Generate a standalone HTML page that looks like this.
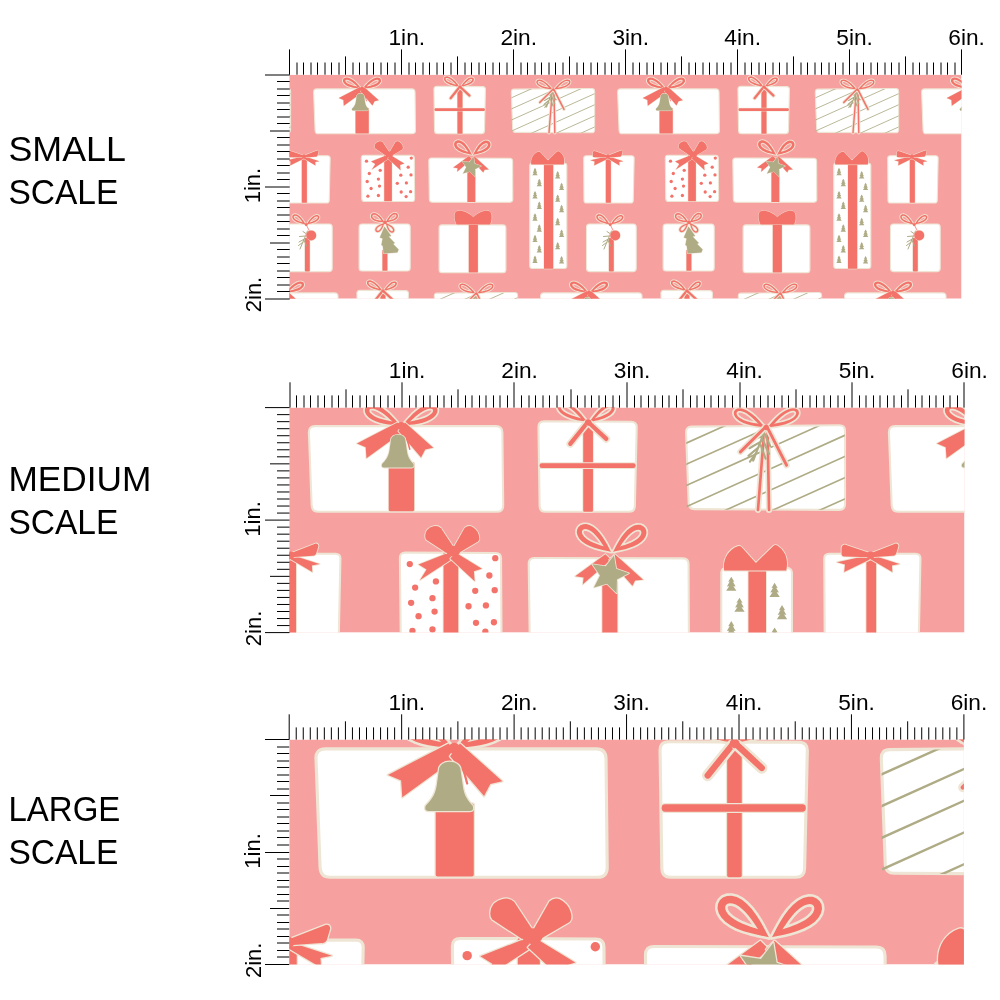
<!DOCTYPE html>
<html><head><meta charset="utf-8"><title>Fabric scale</title>
<style>
html,body{margin:0;padding:0;background:#fff;width:1000px;height:1000px;overflow:hidden}
svg{display:block;will-change:transform}
text{font-family:"Liberation Sans",sans-serif;fill:#000}
.big{font-size:35.9px}
.rl{font-size:22px}
</style></head><body>
<svg width="1000" height="1000" viewBox="0 0 1000 1000">
<defs>
<clipPath id="clipC"><rect x="511.4" y="89.1" width="83.1" height="43.6" rx="2.6"/></clipPath>
<g id="gA"><path d="M313.63,92.30 Q313.50,88.90 316.90,88.90 L411.60,88.90 Q415.00,88.90 415.04,92.30 L415.46,130.40 Q415.50,133.80 412.10,133.80 L318.60,133.80 Q315.20,133.80 315.07,130.40 Z" fill="#fff" stroke="#EFE5D4" stroke-width="1.1"/><rect x="355.5" y="108" width="13.30" height="25.50" rx="0.6" fill="#F3736A" stroke="#EFE5D4" stroke-width="0.9" paint-order="stroke"/><path d="M361.50,88.60 L361.31,88.41 L360.77,87.80 L359.91,86.79 L358.76,85.47 L357.36,83.94 L355.75,82.33 L353.98,80.79 L352.11,79.44 L350.21,78.39 L348.36,77.74 L346.65,77.52 L345.17,77.74 L344.00,78.35 L343.23,79.29 L342.92,80.47 L343.11,81.77 L343.81,83.09 L344.99,84.35 L346.60,85.46 L348.56,86.39 L350.76,87.11 L353.05,87.63 L355.30,87.99 L357.36,88.22 L359.10,88.37 L360.42,88.48 L361.23,88.56Z M357.48,86.55 L357.35,86.44 L356.96,86.10 L356.34,85.53 L355.51,84.78 L354.51,83.91 L353.37,82.98 L352.14,82.07 L350.86,81.25 L349.60,80.57 L348.40,80.08 L347.32,79.82 L346.43,79.80 L345.76,79.99 L345.37,80.38 L345.29,80.93 L345.52,81.58 L346.07,82.29 L346.91,83.00 L348.00,83.69 L349.30,84.32 L350.72,84.86 L352.18,85.32 L353.60,85.70 L354.89,86.00 L355.98,86.23 L356.80,86.40 L357.31,86.51Z" fill="#F3736A" fill-rule="evenodd" stroke="#EFE5D4" stroke-width="1.80" stroke-linejoin="round"/><path d="M361.50,88.60 L361.31,88.41 L360.77,87.80 L359.91,86.79 L358.76,85.47 L357.36,83.94 L355.75,82.33 L353.98,80.79 L352.11,79.44 L350.21,78.39 L348.36,77.74 L346.65,77.52 L345.17,77.74 L344.00,78.35 L343.23,79.29 L342.92,80.47 L343.11,81.77 L343.81,83.09 L344.99,84.35 L346.60,85.46 L348.56,86.39 L350.76,87.11 L353.05,87.63 L355.30,87.99 L357.36,88.22 L359.10,88.37 L360.42,88.48 L361.23,88.56Z M357.48,86.55 L357.35,86.44 L356.96,86.10 L356.34,85.53 L355.51,84.78 L354.51,83.91 L353.37,82.98 L352.14,82.07 L350.86,81.25 L349.60,80.57 L348.40,80.08 L347.32,79.82 L346.43,79.80 L345.76,79.99 L345.37,80.38 L345.29,80.93 L345.52,81.58 L346.07,82.29 L346.91,83.00 L348.00,83.69 L349.30,84.32 L350.72,84.86 L352.18,85.32 L353.60,85.70 L354.89,86.00 L355.98,86.23 L356.80,86.40 L357.31,86.51Z" fill="#F3736A" fill-rule="evenodd"/><path d="M362.50,88.60 L362.77,88.56 L363.58,88.48 L364.90,88.37 L366.64,88.22 L368.70,87.99 L370.95,87.63 L373.24,87.11 L375.44,86.39 L377.40,85.46 L379.01,84.35 L380.19,83.09 L380.89,81.77 L381.08,80.47 L380.77,79.29 L380.00,78.35 L378.83,77.74 L377.35,77.52 L375.64,77.74 L373.79,78.39 L371.89,79.44 L370.02,80.79 L368.25,82.33 L366.64,83.94 L365.24,85.47 L364.09,86.79 L363.23,87.80 L362.69,88.41Z M366.52,86.55 L366.69,86.51 L367.20,86.40 L368.02,86.23 L369.11,86.00 L370.40,85.70 L371.82,85.32 L373.28,84.86 L374.70,84.32 L376.00,83.69 L377.09,83.00 L377.93,82.29 L378.48,81.58 L378.71,80.93 L378.63,80.38 L378.24,79.99 L377.57,79.80 L376.68,79.82 L375.60,80.08 L374.40,80.57 L373.14,81.25 L371.86,82.07 L370.63,82.98 L369.49,83.91 L368.49,84.78 L367.66,85.53 L367.04,86.10 L366.65,86.44Z" fill="#F3736A" fill-rule="evenodd" stroke="#EFE5D4" stroke-width="1.80" stroke-linejoin="round"/><path d="M362.50,88.60 L362.77,88.56 L363.58,88.48 L364.90,88.37 L366.64,88.22 L368.70,87.99 L370.95,87.63 L373.24,87.11 L375.44,86.39 L377.40,85.46 L379.01,84.35 L380.19,83.09 L380.89,81.77 L381.08,80.47 L380.77,79.29 L380.00,78.35 L378.83,77.74 L377.35,77.52 L375.64,77.74 L373.79,78.39 L371.89,79.44 L370.02,80.79 L368.25,82.33 L366.64,83.94 L365.24,85.47 L364.09,86.79 L363.23,87.80 L362.69,88.41Z M366.52,86.55 L366.69,86.51 L367.20,86.40 L368.02,86.23 L369.11,86.00 L370.40,85.70 L371.82,85.32 L373.28,84.86 L374.70,84.32 L376.00,83.69 L377.09,83.00 L377.93,82.29 L378.48,81.58 L378.71,80.93 L378.63,80.38 L378.24,79.99 L377.57,79.80 L376.68,79.82 L375.60,80.08 L374.40,80.57 L373.14,81.25 L371.86,82.07 L370.63,82.98 L369.49,83.91 L368.49,84.78 L367.66,85.53 L367.04,86.10 L366.65,86.44Z" fill="#F3736A" fill-rule="evenodd"/><path d="M360,87 L338.8,98.0 L343.4,100.0 L343.8,105.8 L363.5,91.5 Z" fill="#F3736A" stroke="#EFE5D4" stroke-width="0.9" stroke-linejoin="round" paint-order="stroke"/><path d="M364,87 L378.8,100.2 L374.6,101.2 L372.4,105.4 L360.5,91.5 Z" fill="#F3736A" stroke="#EFE5D4" stroke-width="0.9" stroke-linejoin="round" paint-order="stroke"/><circle cx="362" cy="88.8" r="2.0" fill="#F3736A"/><path d="M363.5,90 L366.5,101" fill="none" stroke="#F3736A" stroke-width="0.8" stroke-linecap="round" stroke-linejoin="round"/><path d="M356.6,96.5 C356.6,92.4 364.2,92.4 364.2,96.5 L365,102 C365.4,105.5 367,107.3 368.4,108.8 Q369,110.6 367.4,110.6 L353,110.6 Q351.4,110.6 352,108.8 C353.5,107.3 355.2,105.5 355.8,102 Z" fill="#AEAB85" stroke="#EFE5D4" stroke-width="0.9" stroke-linejoin="round" paint-order="stroke"/></g>
<g id="gB"><path d="M433.94,89.40 Q433.90,86.40 436.90,86.41 L482.50,86.59 Q485.50,86.60 485.43,89.60 L484.47,130.80 Q484.40,133.80 481.40,133.80 L437.60,133.80 Q434.60,133.80 434.56,130.80 Z" fill="#fff" stroke="#EFE5D4" stroke-width="1.1"/><rect x="457.4" y="86.5" width="5.10" height="47.30" rx="0.6" fill="#F3736A" stroke="#EFE5D4" stroke-width="0.9" paint-order="stroke"/><rect x="434.5" y="108.3" width="50.40" height="2.60" rx="1.2" fill="#F3736A" stroke="#EFE5D4" stroke-width="0.9" paint-order="stroke"/><path d="M459.60,86.80 L459.44,86.62 L459.00,86.07 L458.29,85.17 L457.34,83.98 L456.18,82.59 L454.85,81.12 L453.37,79.69 L451.80,78.41 L450.20,77.39 L448.63,76.69 L447.16,76.36 L445.88,76.41 L444.86,76.82 L444.17,77.53 L443.87,78.47 L443.99,79.57 L444.54,80.72 L445.52,81.86 L446.88,82.92 L448.53,83.85 L450.40,84.64 L452.36,85.27 L454.28,85.76 L456.05,86.13 L457.55,86.41 L458.67,86.61 L459.37,86.74Z M456.21,84.76 L456.09,84.65 L455.76,84.31 L455.24,83.75 L454.55,83.01 L453.70,82.15 L452.73,81.22 L451.68,80.31 L450.58,79.48 L449.48,78.78 L448.42,78.27 L447.46,77.98 L446.64,77.91 L446.02,78.06 L445.63,78.40 L445.50,78.91 L445.66,79.53 L446.11,80.22 L446.82,80.93 L447.77,81.63 L448.90,82.27 L450.15,82.86 L451.45,83.36 L452.72,83.78 L453.88,84.12 L454.86,84.39 L455.60,84.58 L456.05,84.71Z" fill="#F3736A" fill-rule="evenodd" stroke="#EFE5D4" stroke-width="1.80" stroke-linejoin="round"/><path d="M459.60,86.80 L459.44,86.62 L459.00,86.07 L458.29,85.17 L457.34,83.98 L456.18,82.59 L454.85,81.12 L453.37,79.69 L451.80,78.41 L450.20,77.39 L448.63,76.69 L447.16,76.36 L445.88,76.41 L444.86,76.82 L444.17,77.53 L443.87,78.47 L443.99,79.57 L444.54,80.72 L445.52,81.86 L446.88,82.92 L448.53,83.85 L450.40,84.64 L452.36,85.27 L454.28,85.76 L456.05,86.13 L457.55,86.41 L458.67,86.61 L459.37,86.74Z M456.21,84.76 L456.09,84.65 L455.76,84.31 L455.24,83.75 L454.55,83.01 L453.70,82.15 L452.73,81.22 L451.68,80.31 L450.58,79.48 L449.48,78.78 L448.42,78.27 L447.46,77.98 L446.64,77.91 L446.02,78.06 L445.63,78.40 L445.50,78.91 L445.66,79.53 L446.11,80.22 L446.82,80.93 L447.77,81.63 L448.90,82.27 L450.15,82.86 L451.45,83.36 L452.72,83.78 L453.88,84.12 L454.86,84.39 L455.60,84.58 L456.05,84.71Z" fill="#F3736A" fill-rule="evenodd"/><path d="M460.60,86.80 L460.80,86.75 L461.39,86.61 L462.37,86.42 L463.65,86.14 L465.17,85.78 L466.82,85.32 L468.49,84.72 L470.08,84.00 L471.48,83.15 L472.61,82.19 L473.41,81.17 L473.84,80.14 L473.90,79.18 L473.60,78.36 L472.97,77.75 L472.07,77.41 L470.95,77.39 L469.70,77.71 L468.36,78.35 L467.01,79.28 L465.71,80.43 L464.49,81.72 L463.39,83.04 L462.44,84.28 L461.67,85.34 L461.09,86.15 L460.73,86.64Z M463.46,84.94 L463.58,84.90 L463.96,84.77 L464.57,84.57 L465.37,84.30 L466.33,83.96 L467.37,83.55 L468.45,83.08 L469.48,82.55 L470.41,81.97 L471.19,81.36 L471.78,80.76 L472.14,80.18 L472.27,79.68 L472.17,79.28 L471.85,79.03 L471.34,78.95 L470.67,79.05 L469.88,79.34 L469.00,79.80 L468.09,80.42 L467.19,81.15 L466.32,81.93 L465.52,82.72 L464.83,83.46 L464.25,84.08 L463.82,84.56 L463.55,84.85Z" fill="#F3736A" fill-rule="evenodd" stroke="#EFE5D4" stroke-width="1.80" stroke-linejoin="round"/><path d="M460.60,86.80 L460.80,86.75 L461.39,86.61 L462.37,86.42 L463.65,86.14 L465.17,85.78 L466.82,85.32 L468.49,84.72 L470.08,84.00 L471.48,83.15 L472.61,82.19 L473.41,81.17 L473.84,80.14 L473.90,79.18 L473.60,78.36 L472.97,77.75 L472.07,77.41 L470.95,77.39 L469.70,77.71 L468.36,78.35 L467.01,79.28 L465.71,80.43 L464.49,81.72 L463.39,83.04 L462.44,84.28 L461.67,85.34 L461.09,86.15 L460.73,86.64Z M463.46,84.94 L463.58,84.90 L463.96,84.77 L464.57,84.57 L465.37,84.30 L466.33,83.96 L467.37,83.55 L468.45,83.08 L469.48,82.55 L470.41,81.97 L471.19,81.36 L471.78,80.76 L472.14,80.18 L472.27,79.68 L472.17,79.28 L471.85,79.03 L471.34,78.95 L470.67,79.05 L469.88,79.34 L469.00,79.80 L468.09,80.42 L467.19,81.15 L466.32,81.93 L465.52,82.72 L464.83,83.46 L464.25,84.08 L463.82,84.56 L463.55,84.85Z" fill="#F3736A" fill-rule="evenodd"/><path d="M459.2,87.5 L450.6,98.2" fill="none" stroke="#EFE5D4" stroke-width="4.00" stroke-linecap="round" stroke-linejoin="round"/><path d="M459.2,87.5 L450.6,98.2" fill="none" stroke="#F3736A" stroke-width="2.2" stroke-linecap="round" stroke-linejoin="round"/><path d="M460.8,87.5 L469.5,95.6" fill="none" stroke="#EFE5D4" stroke-width="4.00" stroke-linecap="round" stroke-linejoin="round"/><path d="M460.8,87.5 L469.5,95.6" fill="none" stroke="#F3736A" stroke-width="2.2" stroke-linecap="round" stroke-linejoin="round"/><circle cx="460" cy="87.0" r="1.7" fill="#F3736A"/></g>
<g id="gC"><path d="M511.31,92.20 Q511.20,89.20 514.20,89.17 L591.60,88.43 Q594.60,88.40 594.60,91.40 L594.60,129.80 Q594.60,132.80 591.60,132.79 L515.80,132.41 Q512.80,132.40 512.69,129.40 Z" fill="#fff" stroke="#EFE5D4" stroke-width="1.1"/><g clip-path="url(#clipC)"><path d="M510,87.35 L597,48.20" stroke="#AEAB85" stroke-width="0.85" fill="none"/><path d="M510,98.45 L597,59.30" stroke="#AEAB85" stroke-width="0.85" fill="none"/><path d="M510,109.55 L597,70.40" stroke="#AEAB85" stroke-width="0.85" fill="none"/><path d="M510,120.65 L597,81.50" stroke="#AEAB85" stroke-width="0.85" fill="none"/><path d="M510,131.75 L597,92.60" stroke="#AEAB85" stroke-width="0.85" fill="none"/><path d="M510,142.85 L597,103.70" stroke="#AEAB85" stroke-width="0.85" fill="none"/><path d="M510,153.95 L597,114.80" stroke="#AEAB85" stroke-width="0.85" fill="none"/><path d="M510,165.05 L597,125.90" stroke="#AEAB85" stroke-width="0.85" fill="none"/><path d="M510,176.16 L597,137.00" stroke="#AEAB85" stroke-width="0.85" fill="none"/></g><path d="M552.3,91.0 L549.0,132.8" fill="none" stroke="#EFE5D4" stroke-width="3.20" stroke-linecap="round" stroke-linejoin="round"/><path d="M552.3,91.0 L549.0,132.8" fill="none" stroke="#F3736A" stroke-width="1.4" stroke-linecap="round" stroke-linejoin="round"/><path d="M554.0,91.0 L554.8,132.8" fill="none" stroke="#EFE5D4" stroke-width="3.20" stroke-linecap="round" stroke-linejoin="round"/><path d="M554.0,91.0 L554.8,132.8" fill="none" stroke="#F3736A" stroke-width="1.4" stroke-linecap="round" stroke-linejoin="round"/><path d="M553,90 L546.5,107 M551.5,94 L545.5,96.5 M550.5,97 L544.5,100.5 M549.3,100 L544,104.5 M548.3,102.5 L544.8,107.5 M552.5,93 L555.5,99.5 M551.5,96 L554.8,103.5 M550.5,99 L553,106" stroke="#AEAB85" stroke-width="1.1" fill="none" stroke-linecap="round"/><path d="M552.80,89.60 L552.63,89.43 L552.15,88.89 L551.38,88.00 L550.35,86.83 L549.09,85.48 L547.65,84.04 L546.07,82.66 L544.40,81.44 L542.71,80.47 L541.07,79.85 L539.55,79.59 L538.25,79.72 L537.22,80.19 L536.55,80.96 L536.29,81.95 L536.47,83.06 L537.10,84.22 L538.15,85.33 L539.59,86.34 L541.34,87.20 L543.28,87.90 L545.32,88.44 L547.31,88.83 L549.14,89.11 L550.68,89.31 L551.84,89.46 L552.56,89.56Z M549.23,87.70 L549.10,87.59 L548.75,87.24 L548.19,86.66 L547.44,85.90 L546.53,85.01 L545.50,84.07 L544.37,83.15 L543.18,82.33 L542.00,81.66 L540.86,81.20 L539.83,80.98 L538.96,80.99 L538.29,81.23 L537.88,81.67 L537.75,82.25 L537.92,82.94 L538.40,83.67 L539.16,84.40 L540.18,85.08 L541.40,85.69 L542.74,86.21 L544.13,86.64 L545.49,86.97 L546.74,87.23 L547.78,87.42 L548.58,87.57 L549.06,87.66Z" fill="#F3736A" fill-rule="evenodd" stroke="#EFE5D4" stroke-width="1.80" stroke-linejoin="round"/><path d="M552.80,89.60 L552.63,89.43 L552.15,88.89 L551.38,88.00 L550.35,86.83 L549.09,85.48 L547.65,84.04 L546.07,82.66 L544.40,81.44 L542.71,80.47 L541.07,79.85 L539.55,79.59 L538.25,79.72 L537.22,80.19 L536.55,80.96 L536.29,81.95 L536.47,83.06 L537.10,84.22 L538.15,85.33 L539.59,86.34 L541.34,87.20 L543.28,87.90 L545.32,88.44 L547.31,88.83 L549.14,89.11 L550.68,89.31 L551.84,89.46 L552.56,89.56Z M549.23,87.70 L549.10,87.59 L548.75,87.24 L548.19,86.66 L547.44,85.90 L546.53,85.01 L545.50,84.07 L544.37,83.15 L543.18,82.33 L542.00,81.66 L540.86,81.20 L539.83,80.98 L538.96,80.99 L538.29,81.23 L537.88,81.67 L537.75,82.25 L537.92,82.94 L538.40,83.67 L539.16,84.40 L540.18,85.08 L541.40,85.69 L542.74,86.21 L544.13,86.64 L545.49,86.97 L546.74,87.23 L547.78,87.42 L548.58,87.57 L549.06,87.66Z" fill="#F3736A" fill-rule="evenodd"/><path d="M553.80,89.60 L554.04,89.55 L554.76,89.45 L555.94,89.30 L557.50,89.10 L559.34,88.81 L561.35,88.40 L563.41,87.86 L565.37,87.15 L567.13,86.27 L568.59,85.25 L569.66,84.13 L570.30,82.97 L570.48,81.85 L570.22,80.87 L569.55,80.10 L568.52,79.63 L567.20,79.51 L565.67,79.77 L564.02,80.41 L562.31,81.38 L560.62,82.61 L559.02,84.01 L557.56,85.45 L556.29,86.82 L555.24,87.99 L554.46,88.88 L553.97,89.43Z M557.41,87.68 L557.58,87.64 L558.07,87.54 L558.87,87.40 L559.93,87.19 L561.18,86.93 L562.56,86.59 L563.97,86.15 L565.33,85.63 L566.56,85.01 L567.59,84.32 L568.36,83.59 L568.85,82.85 L569.03,82.16 L568.90,81.57 L568.48,81.14 L567.81,80.90 L566.93,80.89 L565.89,81.12 L564.74,81.59 L563.54,82.26 L562.34,83.10 L561.20,84.02 L560.14,84.97 L559.22,85.86 L558.46,86.63 L557.89,87.21 L557.54,87.57Z" fill="#F3736A" fill-rule="evenodd" stroke="#EFE5D4" stroke-width="1.80" stroke-linejoin="round"/><path d="M553.80,89.60 L554.04,89.55 L554.76,89.45 L555.94,89.30 L557.50,89.10 L559.34,88.81 L561.35,88.40 L563.41,87.86 L565.37,87.15 L567.13,86.27 L568.59,85.25 L569.66,84.13 L570.30,82.97 L570.48,81.85 L570.22,80.87 L569.55,80.10 L568.52,79.63 L567.20,79.51 L565.67,79.77 L564.02,80.41 L562.31,81.38 L560.62,82.61 L559.02,84.01 L557.56,85.45 L556.29,86.82 L555.24,87.99 L554.46,88.88 L553.97,89.43Z M557.41,87.68 L557.58,87.64 L558.07,87.54 L558.87,87.40 L559.93,87.19 L561.18,86.93 L562.56,86.59 L563.97,86.15 L565.33,85.63 L566.56,85.01 L567.59,84.32 L568.36,83.59 L568.85,82.85 L569.03,82.16 L568.90,81.57 L568.48,81.14 L567.81,80.90 L566.93,80.89 L565.89,81.12 L564.74,81.59 L563.54,82.26 L562.34,83.10 L561.20,84.02 L560.14,84.97 L559.22,85.86 L558.46,86.63 L557.89,87.21 L557.54,87.57Z" fill="#F3736A" fill-rule="evenodd"/><path d="M552.5,89.8 L539.8,102.4" fill="none" stroke="#EFE5D4" stroke-width="3.30" stroke-linecap="round" stroke-linejoin="round"/><path d="M552.5,89.8 L539.8,102.4" fill="none" stroke="#F3736A" stroke-width="1.5" stroke-linecap="round" stroke-linejoin="round"/><path d="M554.2,90.2 L564.0,109.4" fill="none" stroke="#EFE5D4" stroke-width="3.30" stroke-linecap="round" stroke-linejoin="round"/><path d="M554.2,90.2 L564.0,109.4" fill="none" stroke="#F3736A" stroke-width="1.5" stroke-linecap="round" stroke-linejoin="round"/><circle cx="553.3" cy="89.6" r="1.4" fill="#F3736A"/></g>
<g id="gD"><path d="M583.72,158.40 Q583.70,155.80 586.30,155.80 L631.60,155.80 Q634.20,155.80 634.14,158.40 L633.26,200.40 Q633.20,203.00 630.60,203.00 L586.60,203.00 Q584.00,203.00 583.98,200.40 Z" fill="#fff" stroke="#EFE5D4" stroke-width="1.1"/><rect x="605.8" y="156" width="5.10" height="46.80" rx="0.6" fill="#F3736A" stroke="#EFE5D4" stroke-width="0.9" paint-order="stroke"/><path d="M607,156.6 L590.4,160.2 L594.6,161.4 L594.2,165.4 L608.2,158.6 Z" fill="#F3736A" stroke="#EFE5D4" stroke-width="0.9" stroke-linejoin="round" paint-order="stroke"/><path d="M609,156.6 L623.2,161.2 L619.2,162 L619.4,165.4 L607.8,158.6 Z" fill="#F3736A" stroke="#EFE5D4" stroke-width="0.9" stroke-linejoin="round" paint-order="stroke"/><path d="M607.6,155.4 L594.4,151.0 Q593.0,151.2 592.8,152.6 L592.8,156.2 Q593.2,157.4 594.4,157.2 L607.6,157.6 Z" fill="#F3736A" stroke="#EFE5D4" stroke-width="0.9" stroke-linejoin="round" paint-order="stroke"/><path d="M608.4,155.4 L621.2,150.4 Q622.6,150.4 622.6,151.8 L621.4,155.8 Q620.8,157 619.6,156.8 L608.4,157.6 Z" fill="#F3736A" stroke="#EFE5D4" stroke-width="0.9" stroke-linejoin="round" paint-order="stroke"/><circle cx="608.0" cy="156.6" r="2.0" fill="#F3736A"/></g>
<g id="gE"><path d="M361.33,158.00 Q361.30,155.20 364.10,155.21 L411.50,155.39 Q414.30,155.40 414.32,158.20 L414.58,198.70 Q414.60,201.50 411.80,201.50 L364.60,201.50 Q361.80,201.50 361.77,198.70 Z" fill="#fff" stroke="#EFE5D4" stroke-width="1.1"/><circle cx="366.5" cy="161.2" r="1.65" fill="#F3736A"/><circle cx="369.3" cy="173.5" r="1.65" fill="#F3736A"/><circle cx="367.2" cy="181.5" r="1.65" fill="#F3736A"/><circle cx="371.1" cy="188.5" r="1.65" fill="#F3736A"/><circle cx="367.9" cy="196.2" r="1.65" fill="#F3736A"/><circle cx="380.2" cy="170.3" r="1.65" fill="#F3736A"/><circle cx="378.4" cy="179.1" r="1.65" fill="#F3736A"/><circle cx="379.5" cy="186.1" r="1.65" fill="#F3736A"/><circle cx="378.4" cy="195.5" r="1.65" fill="#F3736A"/><circle cx="411.3" cy="158.1" r="1.65" fill="#F3736A"/><circle cx="408.2" cy="167.2" r="1.65" fill="#F3736A"/><circle cx="411" cy="174.9" r="1.65" fill="#F3736A"/><circle cx="400.8" cy="175.2" r="1.65" fill="#F3736A"/><circle cx="397.3" cy="183.3" r="1.65" fill="#F3736A"/><circle cx="406.4" cy="182.9" r="1.65" fill="#F3736A"/><circle cx="401.2" cy="192" r="1.65" fill="#F3736A"/><circle cx="410.6" cy="191.7" r="1.65" fill="#F3736A"/><circle cx="406.1" cy="196.6" r="1.65" fill="#F3736A"/><rect x="384.2" y="155" width="7.70" height="46.30" rx="0.6" fill="#F3736A" stroke="#EFE5D4" stroke-width="0.9" paint-order="stroke"/><path d="M386.7,155.3 L371.1,161.4 L375.3,164.0 L371.9,169.6 L389.2,158.3 Z" fill="#F3736A" stroke="#EFE5D4" stroke-width="0.9" stroke-linejoin="round" paint-order="stroke"/><path d="M390.7,155.3 L404.3,163.6 L400.1,165.0 L400.5,170.2 L387.7,158.3 Z" fill="#F3736A" stroke="#EFE5D4" stroke-width="0.9" stroke-linejoin="round" paint-order="stroke"/><path d="M389.4,152.2 L382.9,142.4 Q381.2,140.8 378.9,141.4 Q375.7,142.3 374.9,144.6 Q374.1,147.4 375.3,148.6 L385.7,155.4 Z" fill="#F3736A" stroke="#EFE5D4" stroke-width="0.9" stroke-linejoin="round" paint-order="stroke"/><path d="M389.6,152.2 L395.3,142.2 Q396.9,140.8 398.7,141.4 Q401.5,142.8 402.5,145.4 Q403.5,148.2 402.3,149.4 L392.1,155.4 Z" fill="#F3736A" stroke="#EFE5D4" stroke-width="0.9" stroke-linejoin="round" paint-order="stroke"/><ellipse cx="389.3" cy="154.4" rx="3.6" ry="2.8" fill="#F3736A"/></g>
<g id="gF"><path d="M428.84,161.00 Q428.80,158.00 431.80,158.01 L509.60,158.19 Q512.60,158.20 512.61,161.20 L512.79,199.20 Q512.80,202.20 509.80,202.20 L432.40,202.20 Q429.40,202.20 429.36,199.20 Z" fill="#fff" stroke="#EFE5D4" stroke-width="1.1"/><rect x="467.4" y="170" width="7.90" height="32.00" rx="0.6" fill="#F3736A" stroke="#EFE5D4" stroke-width="0.9" paint-order="stroke"/><path d="M469,156 L453.2,167.6 L457.6,168.2 L457.2,171.8 L472,159 Z" fill="#F3736A" stroke="#EFE5D4" stroke-width="0.9" stroke-linejoin="round" paint-order="stroke"/><path d="M474,156 L488.8,169.4 L484.6,169.8 L483.2,172.6 L471,159 Z" fill="#F3736A" stroke="#EFE5D4" stroke-width="0.9" stroke-linejoin="round" paint-order="stroke"/><path d="M472.00,154.80 L471.85,154.55 L471.43,153.79 L470.77,152.53 L469.89,150.87 L468.79,148.94 L467.49,146.90 L466.00,144.91 L464.34,143.12 L462.58,141.69 L460.76,140.72 L458.98,140.25 L457.33,140.32 L455.91,140.88 L454.83,141.86 L454.18,143.17 L454.03,144.69 L454.43,146.29 L455.36,147.88 L456.80,149.35 L458.67,150.66 L460.83,151.76 L463.16,152.64 L465.49,153.33 L467.64,153.85 L469.48,154.25 L470.87,154.53 L471.72,154.72Z M468.22,151.95 L468.11,151.81 L467.80,151.36 L467.31,150.62 L466.65,149.64 L465.84,148.50 L464.89,147.28 L463.84,146.07 L462.72,144.97 L461.55,144.04 L460.40,143.36 L459.31,142.96 L458.33,142.85 L457.54,143.04 L456.99,143.49 L456.71,144.14 L456.75,144.96 L457.12,145.86 L457.80,146.80 L458.78,147.72 L459.99,148.59 L461.36,149.37 L462.81,150.04 L464.25,150.61 L465.57,151.08 L466.69,151.44 L467.53,151.71 L468.05,151.89Z" fill="#F3736A" fill-rule="evenodd" stroke="#EFE5D4" stroke-width="1.80" stroke-linejoin="round"/><path d="M472.00,154.80 L471.85,154.55 L471.43,153.79 L470.77,152.53 L469.89,150.87 L468.79,148.94 L467.49,146.90 L466.00,144.91 L464.34,143.12 L462.58,141.69 L460.76,140.72 L458.98,140.25 L457.33,140.32 L455.91,140.88 L454.83,141.86 L454.18,143.17 L454.03,144.69 L454.43,146.29 L455.36,147.88 L456.80,149.35 L458.67,150.66 L460.83,151.76 L463.16,152.64 L465.49,153.33 L467.64,153.85 L469.48,154.25 L470.87,154.53 L471.72,154.72Z M468.22,151.95 L468.11,151.81 L467.80,151.36 L467.31,150.62 L466.65,149.64 L465.84,148.50 L464.89,147.28 L463.84,146.07 L462.72,144.97 L461.55,144.04 L460.40,143.36 L459.31,142.96 L458.33,142.85 L457.54,143.04 L456.99,143.49 L456.71,144.14 L456.75,144.96 L457.12,145.86 L457.80,146.80 L458.78,147.72 L459.99,148.59 L461.36,149.37 L462.81,150.04 L464.25,150.61 L465.57,151.08 L466.69,151.44 L467.53,151.71 L468.05,151.89Z" fill="#F3736A" fill-rule="evenodd"/><path d="M473.00,154.80 L473.27,154.72 L474.10,154.54 L475.46,154.26 L477.26,153.88 L479.37,153.37 L481.64,152.70 L483.92,151.84 L486.04,150.77 L487.86,149.50 L489.26,148.05 L490.17,146.50 L490.56,144.93 L490.41,143.44 L489.77,142.16 L488.71,141.20 L487.33,140.64 L485.71,140.58 L483.97,141.03 L482.19,141.98 L480.47,143.38 L478.85,145.12 L477.40,147.07 L476.13,149.07 L475.06,150.96 L474.20,152.58 L473.56,153.81 L473.15,154.56Z M476.69,152.02 L476.86,151.95 L477.36,151.78 L478.18,151.52 L479.26,151.16 L480.55,150.70 L481.94,150.14 L483.34,149.48 L484.68,148.73 L485.85,147.89 L486.80,146.99 L487.47,146.08 L487.83,145.20 L487.88,144.42 L487.62,143.79 L487.08,143.36 L486.31,143.19 L485.37,143.29 L484.31,143.68 L483.19,144.35 L482.06,145.25 L480.96,146.32 L479.94,147.49 L479.02,148.68 L478.23,149.78 L477.58,150.73 L477.10,151.44 L476.80,151.88Z" fill="#F3736A" fill-rule="evenodd" stroke="#EFE5D4" stroke-width="1.80" stroke-linejoin="round"/><path d="M473.00,154.80 L473.27,154.72 L474.10,154.54 L475.46,154.26 L477.26,153.88 L479.37,153.37 L481.64,152.70 L483.92,151.84 L486.04,150.77 L487.86,149.50 L489.26,148.05 L490.17,146.50 L490.56,144.93 L490.41,143.44 L489.77,142.16 L488.71,141.20 L487.33,140.64 L485.71,140.58 L483.97,141.03 L482.19,141.98 L480.47,143.38 L478.85,145.12 L477.40,147.07 L476.13,149.07 L475.06,150.96 L474.20,152.58 L473.56,153.81 L473.15,154.56Z M476.69,152.02 L476.86,151.95 L477.36,151.78 L478.18,151.52 L479.26,151.16 L480.55,150.70 L481.94,150.14 L483.34,149.48 L484.68,148.73 L485.85,147.89 L486.80,146.99 L487.47,146.08 L487.83,145.20 L487.88,144.42 L487.62,143.79 L487.08,143.36 L486.31,143.19 L485.37,143.29 L484.31,143.68 L483.19,144.35 L482.06,145.25 L480.96,146.32 L479.94,147.49 L479.02,148.68 L478.23,149.78 L477.58,150.73 L477.10,151.44 L476.80,151.88Z" fill="#F3736A" fill-rule="evenodd"/><path d="M473.52,156.71 L474.68,163.71 L481.37,166.07 L475.07,169.34 L474.90,176.44 L469.84,171.46 L463.03,173.48 L466.21,167.13 L462.18,161.29 L469.20,162.35Z" fill="#AEAB85" stroke="#EFE5D4" stroke-width="0.9" stroke-linejoin="round" paint-order="stroke"/></g>
<g id="gG"><rect x="529.75" y="163.2" width="37.05" height="105.30" rx="2.5" fill="#fff" stroke="#EFE5D4" stroke-width="1.1"/><path d="M535.0,167.79999999999998 L533.38,170.53 L534.19,170.37 L532.73,172.95 L533.92,172.79 L532.30,175.21 L537.70,175.21 L536.08,172.79 L537.27,172.95 L535.81,170.37 L536.62,170.53 Z" fill="#AEAB85"/><path d="M539.3,178.79999999999998 L537.68,181.53 L538.49,181.37 L537.03,183.95 L538.22,183.79 L536.60,186.21 L542.00,186.21 L540.38,183.79 L541.57,183.95 L540.11,181.37 L540.92,181.53 Z" fill="#AEAB85"/><path d="M535.0,191.1 L533.38,193.83 L534.19,193.67 L532.73,196.25 L533.92,196.09 L532.30,198.51 L537.70,198.51 L536.08,196.09 L537.27,196.25 L535.81,193.67 L536.62,193.83 Z" fill="#AEAB85"/><path d="M539.3,201.6 L537.68,204.33 L538.49,204.17 L537.03,206.75 L538.22,206.59 L536.60,209.01 L542.00,209.01 L540.38,206.59 L541.57,206.75 L540.11,204.17 L540.92,204.33 Z" fill="#AEAB85"/><path d="M535.0,213.29999999999998 L533.38,216.03 L534.19,215.87 L532.73,218.45 L533.92,218.29 L532.30,220.71 L537.70,220.71 L536.08,218.29 L537.27,218.45 L535.81,215.87 L536.62,216.03 Z" fill="#AEAB85"/><path d="M539.3,224.29999999999998 L537.68,227.03 L538.49,226.87 L537.03,229.45 L538.22,229.29 L536.60,231.71 L542.00,231.71 L540.38,229.29 L541.57,229.45 L540.11,226.87 L540.92,227.03 Z" fill="#AEAB85"/><path d="M535.0,234.7 L533.38,237.43 L534.19,237.27 L532.73,239.85 L533.92,239.69 L532.30,242.11 L537.70,242.11 L536.08,239.69 L537.27,239.85 L535.81,237.27 L536.62,237.43 Z" fill="#AEAB85"/><path d="M539.3,245.1 L537.68,247.83 L538.49,247.67 L537.03,250.25 L538.22,250.09 L536.60,252.51 L542.00,252.51 L540.38,250.09 L541.57,250.25 L540.11,247.67 L540.92,247.83 Z" fill="#AEAB85"/><path d="M535.0,255.49999999999997 L533.38,258.23 L534.19,258.07 L532.73,260.65 L533.92,260.49 L532.30,262.91 L537.70,262.91 L536.08,260.49 L537.27,260.65 L535.81,258.07 L536.62,258.23 Z" fill="#AEAB85"/><path d="M557.7,171.0 L556.08,173.73 L556.89,173.57 L555.43,176.15 L556.62,175.99 L555.00,178.41 L560.40,178.41 L558.78,175.99 L559.97,176.15 L558.51,173.57 L559.32,173.73 Z" fill="#AEAB85"/><path d="M561.6,182.7 L559.98,185.43 L560.79,185.27 L559.33,187.85 L560.52,187.69 L558.90,190.11 L564.30,190.11 L562.68,187.69 L563.87,187.85 L562.41,185.27 L563.22,185.43 Z" fill="#AEAB85"/><path d="M557.7,194.4 L556.08,197.13 L556.89,196.97 L555.43,199.55 L556.62,199.39 L555.00,201.81 L560.40,201.81 L558.78,199.39 L559.97,199.55 L558.51,196.97 L559.32,197.13 Z" fill="#AEAB85"/><path d="M561.6,204.79999999999998 L559.98,207.53 L560.79,207.37 L559.33,209.95 L560.52,209.79 L558.90,212.21 L564.30,212.21 L562.68,209.79 L563.87,209.95 L562.41,207.37 L563.22,207.53 Z" fill="#AEAB85"/><path d="M557.7,217.79999999999998 L556.08,220.53 L556.89,220.37 L555.43,222.95 L556.62,222.79 L555.00,225.21 L560.40,225.21 L558.78,222.79 L559.97,222.95 L558.51,220.37 L559.32,220.53 Z" fill="#AEAB85"/><path d="M561.6,229.5 L559.98,232.23 L560.79,232.07 L559.33,234.65 L560.52,234.49 L558.90,236.91 L564.30,236.91 L562.68,234.49 L563.87,234.65 L562.41,232.07 L563.22,232.23 Z" fill="#AEAB85"/><path d="M557.7,241.9 L556.08,244.63 L556.89,244.47 L555.43,247.05 L556.62,246.89 L555.00,249.31 L560.40,249.31 L558.78,246.89 L559.97,247.05 L558.51,244.47 L559.32,244.63 Z" fill="#AEAB85"/><path d="M561.6,256.1 L559.98,258.83 L560.79,258.67 L559.33,261.25 L560.52,261.09 L558.90,263.51 L564.30,263.51 L562.68,261.09 L563.87,261.25 L562.41,258.67 L563.22,258.83 Z" fill="#AEAB85"/><rect x="544.0" y="160" width="9.20" height="108.80" rx="0.6" fill="#F3736A" stroke="#EFE5D4" stroke-width="0.9" paint-order="stroke"/><path d="M531.3,164.6 C530.4,159 533.2,153.6 538.4,151.8 Q539.6,151.4 540.5,152.4 L547.9,160.6 L556.9,151.8 Q558.1,150.8 559.3,151.6 C563.6,154.6 565,159 563.8,164.6 Z" fill="#F3736A" stroke="#EFE5D4" stroke-width="0.9" stroke-linejoin="round" paint-order="stroke"/></g>
<g id="gH"><rect x="586.5" y="224.0" width="49.70" height="47.60" rx="3.0" fill="#fff" stroke="#EFE5D4" stroke-width="1.1"/><rect x="608.9" y="238" width="4.90" height="33.40" rx="0.6" fill="#F3736A" stroke="#EFE5D4" stroke-width="0.9" paint-order="stroke"/><path d="M609.60,224.40 L609.48,224.23 L609.14,223.70 L608.60,222.82 L607.88,221.67 L607.00,220.32 L605.96,218.90 L604.78,217.50 L603.51,216.26 L602.17,215.26 L600.83,214.57 L599.53,214.24 L598.35,214.28 L597.37,214.66 L596.66,215.34 L596.27,216.24 L596.24,217.29 L596.61,218.41 L597.36,219.52 L598.47,220.55 L599.87,221.46 L601.47,222.23 L603.18,222.86 L604.88,223.35 L606.44,223.72 L607.77,224.00 L608.78,224.21 L609.40,224.34Z M606.75,222.41 L606.66,222.30 L606.42,221.96 L606.02,221.41 L605.49,220.69 L604.84,219.84 L604.09,218.94 L603.26,218.05 L602.37,217.23 L601.46,216.56 L600.56,216.07 L599.72,215.79 L598.98,215.74 L598.38,215.90 L597.97,216.26 L597.78,216.76 L597.83,217.38 L598.13,218.06 L598.68,218.76 L599.45,219.43 L600.39,220.06 L601.46,220.61 L602.58,221.09 L603.69,221.49 L604.71,221.81 L605.57,222.06 L606.22,222.24 L606.62,222.36Z" fill="#F3736A" fill-rule="evenodd" stroke="#EFE5D4" stroke-width="1.80" stroke-linejoin="round"/><path d="M609.60,224.40 L609.48,224.23 L609.14,223.70 L608.60,222.82 L607.88,221.67 L607.00,220.32 L605.96,218.90 L604.78,217.50 L603.51,216.26 L602.17,215.26 L600.83,214.57 L599.53,214.24 L598.35,214.28 L597.37,214.66 L596.66,215.34 L596.27,216.24 L596.24,217.29 L596.61,218.41 L597.36,219.52 L598.47,220.55 L599.87,221.46 L601.47,222.23 L603.18,222.86 L604.88,223.35 L606.44,223.72 L607.77,224.00 L608.78,224.21 L609.40,224.34Z M606.75,222.41 L606.66,222.30 L606.42,221.96 L606.02,221.41 L605.49,220.69 L604.84,219.84 L604.09,218.94 L603.26,218.05 L602.37,217.23 L601.46,216.56 L600.56,216.07 L599.72,215.79 L598.98,215.74 L598.38,215.90 L597.97,216.26 L597.78,216.76 L597.83,217.38 L598.13,218.06 L598.68,218.76 L599.45,219.43 L600.39,220.06 L601.46,220.61 L602.58,221.09 L603.69,221.49 L604.71,221.81 L605.57,222.06 L606.22,222.24 L606.62,222.36Z" fill="#F3736A" fill-rule="evenodd"/><path d="M610.60,224.40 L610.79,224.35 L611.38,224.22 L612.33,224.03 L613.58,223.77 L615.07,223.43 L616.67,222.97 L618.29,222.39 L619.82,221.68 L621.17,220.83 L622.24,219.88 L622.98,218.86 L623.36,217.82 L623.37,216.85 L623.04,216.01 L622.39,215.38 L621.48,215.03 L620.38,215.00 L619.15,215.30 L617.87,215.94 L616.58,216.87 L615.34,218.02 L614.20,219.31 L613.17,220.62 L612.30,221.87 L611.59,222.94 L611.06,223.75 L610.72,224.24Z M613.34,222.55 L613.46,222.51 L613.83,222.39 L614.43,222.21 L615.23,221.97 L616.18,221.66 L617.21,221.28 L618.26,220.82 L619.27,220.31 L620.16,219.73 L620.90,219.11 L621.45,218.49 L621.77,217.88 L621.85,217.34 L621.71,216.91 L621.36,216.61 L620.82,216.49 L620.15,216.56 L619.36,216.83 L618.51,217.28 L617.64,217.90 L616.78,218.64 L615.97,219.44 L615.23,220.26 L614.59,221.02 L614.06,221.66 L613.67,222.16 L613.42,222.46Z" fill="#F3736A" fill-rule="evenodd" stroke="#EFE5D4" stroke-width="1.80" stroke-linejoin="round"/><path d="M610.60,224.40 L610.79,224.35 L611.38,224.22 L612.33,224.03 L613.58,223.77 L615.07,223.43 L616.67,222.97 L618.29,222.39 L619.82,221.68 L621.17,220.83 L622.24,219.88 L622.98,218.86 L623.36,217.82 L623.37,216.85 L623.04,216.01 L622.39,215.38 L621.48,215.03 L620.38,215.00 L619.15,215.30 L617.87,215.94 L616.58,216.87 L615.34,218.02 L614.20,219.31 L613.17,220.62 L612.30,221.87 L611.59,222.94 L611.06,223.75 L610.72,224.24Z M613.34,222.55 L613.46,222.51 L613.83,222.39 L614.43,222.21 L615.23,221.97 L616.18,221.66 L617.21,221.28 L618.26,220.82 L619.27,220.31 L620.16,219.73 L620.90,219.11 L621.45,218.49 L621.77,217.88 L621.85,217.34 L621.71,216.91 L621.36,216.61 L620.82,216.49 L620.15,216.56 L619.36,216.83 L618.51,217.28 L617.64,217.90 L616.78,218.64 L615.97,219.44 L615.23,220.26 L614.59,221.02 L614.06,221.66 L613.67,222.16 L613.42,222.46Z" fill="#F3736A" fill-rule="evenodd"/><path d="M611.5,231 L604,249 M609.5,236 L603.5,236.5 M608.5,239 L603,242 M607.3,242 L602.5,245.5 M610.5,234 L607,231.5 M608,240 L610.5,246" stroke="#AEAB85" stroke-width="1.0" fill="none" stroke-linecap="round"/><path d="M610.2,224.8 L613.5,231" fill="none" stroke="#F3736A" stroke-width="0.8" stroke-linecap="round" stroke-linejoin="round"/><circle cx="615.2" cy="235.4" r="5.0" fill="#F3736A" stroke="#EFE5D4" stroke-width="0.9" paint-order="stroke"/><circle cx="610.2" cy="224.6" r="1.5" fill="#F3736A"/></g>
<g id="gI"><rect x="359.1" y="224.0" width="51.10" height="47.00" rx="3.0" fill="#fff" stroke="#EFE5D4" stroke-width="1.1"/><rect x="382.4" y="250" width="5.00" height="20.80" rx="0.6" fill="#F3736A" stroke="#EFE5D4" stroke-width="0.9" paint-order="stroke"/><path d="M384.60,222.40 L384.47,222.24 L384.11,221.72 L383.53,220.88 L382.75,219.76 L381.80,218.47 L380.70,217.11 L379.46,215.81 L378.12,214.68 L376.73,213.81 L375.34,213.27 L374.02,213.10 L372.84,213.30 L371.87,213.84 L371.18,214.65 L370.82,215.66 L370.84,216.77 L371.26,217.89 L372.07,218.95 L373.22,219.88 L374.67,220.65 L376.32,221.24 L378.07,221.66 L379.80,221.94 L381.39,222.12 L382.74,222.23 L383.77,222.31 L384.39,222.37Z M381.65,220.69 L381.56,220.59 L381.30,220.27 L380.88,219.73 L380.33,219.02 L379.66,218.20 L378.88,217.34 L378.01,216.50 L377.09,215.76 L376.15,215.18 L375.22,214.79 L374.35,214.64 L373.59,214.71 L372.98,214.99 L372.56,215.45 L372.37,216.04 L372.43,216.71 L372.75,217.41 L373.32,218.08 L374.12,218.69 L375.10,219.22 L376.20,219.64 L377.35,219.97 L378.49,220.22 L379.54,220.39 L380.43,220.52 L381.10,220.61 L381.51,220.67Z" fill="#F3736A" fill-rule="evenodd" stroke="#EFE5D4" stroke-width="1.80" stroke-linejoin="round"/><path d="M384.60,222.40 L384.47,222.24 L384.11,221.72 L383.53,220.88 L382.75,219.76 L381.80,218.47 L380.70,217.11 L379.46,215.81 L378.12,214.68 L376.73,213.81 L375.34,213.27 L374.02,213.10 L372.84,213.30 L371.87,213.84 L371.18,214.65 L370.82,215.66 L370.84,216.77 L371.26,217.89 L372.07,218.95 L373.22,219.88 L374.67,220.65 L376.32,221.24 L378.07,221.66 L379.80,221.94 L381.39,222.12 L382.74,222.23 L383.77,222.31 L384.39,222.37Z M381.65,220.69 L381.56,220.59 L381.30,220.27 L380.88,219.73 L380.33,219.02 L379.66,218.20 L378.88,217.34 L378.01,216.50 L377.09,215.76 L376.15,215.18 L375.22,214.79 L374.35,214.64 L373.59,214.71 L372.98,214.99 L372.56,215.45 L372.37,216.04 L372.43,216.71 L372.75,217.41 L373.32,218.08 L374.12,218.69 L375.10,219.22 L376.20,219.64 L377.35,219.97 L378.49,220.22 L379.54,220.39 L380.43,220.52 L381.10,220.61 L381.51,220.67Z" fill="#F3736A" fill-rule="evenodd"/><path d="M385.60,222.40 L385.79,222.36 L386.37,222.25 L387.32,222.10 L388.58,221.89 L390.05,221.60 L391.64,221.21 L393.24,220.67 L394.73,219.99 L396.02,219.16 L397.02,218.19 L397.68,217.13 L397.98,216.05 L397.90,215.00 L397.48,214.08 L396.76,213.37 L395.80,212.94 L394.68,212.85 L393.46,213.11 L392.21,213.72 L390.99,214.64 L389.84,215.81 L388.79,217.13 L387.87,218.49 L387.10,219.78 L386.47,220.88 L386.00,221.72 L385.71,222.24Z M388.21,220.57 L388.34,220.53 L388.71,220.44 L389.32,220.30 L390.12,220.11 L391.07,219.86 L392.10,219.54 L393.14,219.14 L394.12,218.65 L394.97,218.09 L395.66,217.46 L396.13,216.80 L396.38,216.14 L396.38,215.52 L396.17,215.00 L395.75,214.62 L395.17,214.41 L394.47,214.42 L393.68,214.64 L392.86,215.07 L392.03,215.68 L391.24,216.43 L390.51,217.27 L389.86,218.13 L389.30,218.93 L388.84,219.62 L388.50,220.15 L388.29,220.47Z" fill="#F3736A" fill-rule="evenodd" stroke="#EFE5D4" stroke-width="1.80" stroke-linejoin="round"/><path d="M385.60,222.40 L385.79,222.36 L386.37,222.25 L387.32,222.10 L388.58,221.89 L390.05,221.60 L391.64,221.21 L393.24,220.67 L394.73,219.99 L396.02,219.16 L397.02,218.19 L397.68,217.13 L397.98,216.05 L397.90,215.00 L397.48,214.08 L396.76,213.37 L395.80,212.94 L394.68,212.85 L393.46,213.11 L392.21,213.72 L390.99,214.64 L389.84,215.81 L388.79,217.13 L387.87,218.49 L387.10,219.78 L386.47,220.88 L386.00,221.72 L385.71,222.24Z M388.21,220.57 L388.34,220.53 L388.71,220.44 L389.32,220.30 L390.12,220.11 L391.07,219.86 L392.10,219.54 L393.14,219.14 L394.12,218.65 L394.97,218.09 L395.66,217.46 L396.13,216.80 L396.38,216.14 L396.38,215.52 L396.17,215.00 L395.75,214.62 L395.17,214.41 L394.47,214.42 L393.68,214.64 L392.86,215.07 L392.03,215.68 L391.24,216.43 L390.51,217.27 L389.86,218.13 L389.30,218.93 L388.84,219.62 L388.50,220.15 L388.29,220.47Z" fill="#F3736A" fill-rule="evenodd"/><path d="M384.40,223.00 L384.25,223.06 L383.79,223.23 L383.04,223.49 L382.04,223.84 L380.88,224.28 L379.63,224.83 L378.41,225.49 L377.29,226.26 L376.36,227.13 L375.68,228.06 L375.30,229.02 L375.22,229.95 L375.44,230.79 L375.91,231.49 L376.61,231.96 L377.45,232.18 L378.38,232.10 L379.34,231.72 L380.27,231.04 L381.14,230.11 L381.91,228.99 L382.57,227.77 L383.12,226.52 L383.56,225.36 L383.91,224.36 L384.17,223.61 L384.34,223.15Z M382.53,224.87 L382.44,224.91 L382.15,225.04 L381.69,225.25 L381.07,225.52 L380.34,225.86 L379.56,226.27 L378.79,226.75 L378.07,227.28 L377.45,227.86 L376.99,228.46 L376.70,229.06 L376.59,229.62 L376.66,230.11 L376.90,230.50 L377.29,230.74 L377.78,230.81 L378.34,230.70 L378.94,230.41 L379.54,229.95 L380.12,229.33 L380.65,228.61 L381.13,227.84 L381.54,227.06 L381.88,226.33 L382.15,225.71 L382.36,225.25 L382.49,224.96Z" fill="#F3736A" fill-rule="evenodd" stroke="#EFE5D4" stroke-width="1.80" stroke-linejoin="round"/><path d="M384.40,223.00 L384.25,223.06 L383.79,223.23 L383.04,223.49 L382.04,223.84 L380.88,224.28 L379.63,224.83 L378.41,225.49 L377.29,226.26 L376.36,227.13 L375.68,228.06 L375.30,229.02 L375.22,229.95 L375.44,230.79 L375.91,231.49 L376.61,231.96 L377.45,232.18 L378.38,232.10 L379.34,231.72 L380.27,231.04 L381.14,230.11 L381.91,228.99 L382.57,227.77 L383.12,226.52 L383.56,225.36 L383.91,224.36 L384.17,223.61 L384.34,223.15Z M382.53,224.87 L382.44,224.91 L382.15,225.04 L381.69,225.25 L381.07,225.52 L380.34,225.86 L379.56,226.27 L378.79,226.75 L378.07,227.28 L377.45,227.86 L376.99,228.46 L376.70,229.06 L376.59,229.62 L376.66,230.11 L376.90,230.50 L377.29,230.74 L377.78,230.81 L378.34,230.70 L378.94,230.41 L379.54,229.95 L380.12,229.33 L380.65,228.61 L381.13,227.84 L381.54,227.06 L381.88,226.33 L382.15,225.71 L382.36,225.25 L382.49,224.96Z" fill="#F3736A" fill-rule="evenodd"/><path d="M385.80,223.00 L385.85,223.15 L385.98,223.63 L386.17,224.40 L386.43,225.42 L386.77,226.62 L387.21,227.91 L387.76,229.19 L388.43,230.37 L389.21,231.37 L390.08,232.12 L391.00,232.59 L391.92,232.75 L392.78,232.61 L393.51,232.19 L394.05,231.54 L394.34,230.72 L394.34,229.79 L394.04,228.80 L393.45,227.81 L392.60,226.87 L391.55,226.01 L390.39,225.24 L389.20,224.58 L388.08,224.04 L387.12,223.61 L386.39,223.28 L385.94,223.08Z M387.50,225.02 L387.54,225.12 L387.64,225.42 L387.80,225.90 L388.02,226.54 L388.30,227.29 L388.64,228.10 L389.04,228.92 L389.51,229.68 L390.03,230.34 L390.59,230.86 L391.16,231.20 L391.72,231.36 L392.21,231.33 L392.61,231.12 L392.89,230.76 L393.00,230.28 L392.95,229.71 L392.71,229.09 L392.30,228.45 L391.74,227.82 L391.07,227.22 L390.33,226.68 L389.59,226.21 L388.90,225.80 L388.31,225.48 L387.86,225.23 L387.59,225.08Z" fill="#F3736A" fill-rule="evenodd" stroke="#EFE5D4" stroke-width="1.80" stroke-linejoin="round"/><path d="M385.80,223.00 L385.85,223.15 L385.98,223.63 L386.17,224.40 L386.43,225.42 L386.77,226.62 L387.21,227.91 L387.76,229.19 L388.43,230.37 L389.21,231.37 L390.08,232.12 L391.00,232.59 L391.92,232.75 L392.78,232.61 L393.51,232.19 L394.05,231.54 L394.34,230.72 L394.34,229.79 L394.04,228.80 L393.45,227.81 L392.60,226.87 L391.55,226.01 L390.39,225.24 L389.20,224.58 L388.08,224.04 L387.12,223.61 L386.39,223.28 L385.94,223.08Z M387.50,225.02 L387.54,225.12 L387.64,225.42 L387.80,225.90 L388.02,226.54 L388.30,227.29 L388.64,228.10 L389.04,228.92 L389.51,229.68 L390.03,230.34 L390.59,230.86 L391.16,231.20 L391.72,231.36 L392.21,231.33 L392.61,231.12 L392.89,230.76 L393.00,230.28 L392.95,229.71 L392.71,229.09 L392.30,228.45 L391.74,227.82 L391.07,227.22 L390.33,226.68 L389.59,226.21 L388.90,225.80 L388.31,225.48 L387.86,225.23 L387.59,225.08Z" fill="#F3736A" fill-rule="evenodd"/><path d="M384.5,226.6 L391.2,236 L388.6,236.6 L394.8,243 L393.2,244 L398.6,249.4 L397.4,252.6 L383.6,253.6 L382.8,246 L381.4,245 L382.6,238.6 L379.8,237.6 Z" fill="#AEAB85" stroke="#EFE5D4" stroke-width="0.9" stroke-linejoin="round" paint-order="stroke"/><circle cx="385.0" cy="222.4" r="1.8" fill="#F3736A"/></g>
<g id="gJ"><rect x="439.1" y="224.9" width="66.80" height="47.80" rx="3.0" fill="#fff" stroke="#EFE5D4" stroke-width="1.1"/><rect x="468.8" y="222" width="9.10" height="50.50" rx="0.6" fill="#F3736A" stroke="#EFE5D4" stroke-width="0.9" paint-order="stroke"/><path d="M473.4,217.2 C468,212 460,209.4 456.2,211.6 C453.4,214 454.6,221 456.6,224.4 L490.2,224.4 C491.8,221 492.6,214 489.8,211.6 C486,209.4 478.6,212 473.4,217.2 Z" fill="#F3736A" stroke="#EFE5D4" stroke-width="0.9" stroke-linejoin="round" paint-order="stroke"/></g>
</defs>
<text x="8.4" y="160.8" class="big" textLength="117.5" lengthAdjust="spacingAndGlyphs">SMALL</text><text x="8.4" y="203.9" class="big" textLength="110.0" lengthAdjust="spacingAndGlyphs">SCALE</text>
<text x="8.4" y="490.8" class="big" textLength="143.0" lengthAdjust="spacingAndGlyphs">MEDIUM</text><text x="8.4" y="533.9" class="big" textLength="110.0" lengthAdjust="spacingAndGlyphs">SCALE</text>
<text x="8.4" y="820.8" class="big" textLength="112.0" lengthAdjust="spacingAndGlyphs">LARGE</text><text x="8.4" y="863.9" class="big" textLength="110.0" lengthAdjust="spacingAndGlyphs">SCALE</text>
<clipPath id="cp0"><rect x="289.3" y="74.7" width="672.22" height="223.94"/></clipPath>
<g clip-path="url(#cp0)"><rect x="289.3" y="74.7" width="672.22" height="223.94" fill="#F6A1A0"/>
<g transform="translate(0.0 0.0) scale(1.0)">
<use href="#gA" x="-304" y="0"/>
<use href="#gB" x="-304" y="0"/>
<use href="#gC" x="-304" y="0"/>
<use href="#gD" x="-304" y="0"/>
<use href="#gE" x="-304" y="0"/>
<use href="#gF" x="-304" y="0"/>
<use href="#gG" x="-304" y="0"/>
<use href="#gH" x="-304" y="0"/>
<use href="#gI" x="-304" y="0"/>
<use href="#gJ" x="-304" y="0"/>
<use href="#gA" x="0" y="0"/>
<use href="#gB" x="0" y="0"/>
<use href="#gC" x="0" y="0"/>
<use href="#gD" x="0" y="0"/>
<use href="#gE" x="0" y="0"/>
<use href="#gF" x="0" y="0"/>
<use href="#gG" x="0" y="0"/>
<use href="#gH" x="0" y="0"/>
<use href="#gI" x="0" y="0"/>
<use href="#gJ" x="0" y="0"/>
<use href="#gA" x="304" y="0"/>
<use href="#gB" x="304" y="0"/>
<use href="#gC" x="304" y="0"/>
<use href="#gD" x="304" y="0"/>
<use href="#gE" x="304" y="0"/>
<use href="#gF" x="304" y="0"/>
<use href="#gG" x="304" y="0"/>
<use href="#gH" x="304" y="0"/>
<use href="#gI" x="304" y="0"/>
<use href="#gJ" x="304" y="0"/>
<use href="#gA" x="608" y="0"/>
<use href="#gB" x="608" y="0"/>
<use href="#gC" x="608" y="0"/>
<use href="#gD" x="608" y="0"/>
<use href="#gE" x="608" y="0"/>
<use href="#gF" x="608" y="0"/>
<use href="#gG" x="608" y="0"/>
<use href="#gH" x="608" y="0"/>
<use href="#gI" x="608" y="0"/>
<use href="#gJ" x="608" y="0"/>
<use href="#gA" x="-381" y="204"/>
<use href="#gB" x="-381" y="204"/>
<use href="#gC" x="-381" y="204"/>
<use href="#gD" x="-227" y="-204"/>
<use href="#gE" x="-227" y="-204"/>
<use href="#gF" x="-227" y="-204"/>
<use href="#gG" x="-227" y="-204"/>
<use href="#gH" x="-227" y="-204"/>
<use href="#gI" x="-227" y="-204"/>
<use href="#gJ" x="-227" y="-204"/>
<use href="#gA" x="-77" y="204"/>
<use href="#gB" x="-77" y="204"/>
<use href="#gC" x="-77" y="204"/>
<use href="#gD" x="77" y="-204"/>
<use href="#gE" x="77" y="-204"/>
<use href="#gF" x="77" y="-204"/>
<use href="#gG" x="77" y="-204"/>
<use href="#gH" x="77" y="-204"/>
<use href="#gI" x="77" y="-204"/>
<use href="#gJ" x="77" y="-204"/>
<use href="#gA" x="227" y="204"/>
<use href="#gB" x="227" y="204"/>
<use href="#gC" x="227" y="204"/>
<use href="#gD" x="381" y="-204"/>
<use href="#gE" x="381" y="-204"/>
<use href="#gF" x="381" y="-204"/>
<use href="#gG" x="381" y="-204"/>
<use href="#gH" x="381" y="-204"/>
<use href="#gI" x="381" y="-204"/>
<use href="#gJ" x="381" y="-204"/>
<use href="#gA" x="531" y="204"/>
<use href="#gB" x="531" y="204"/>
<use href="#gC" x="531" y="204"/>
<use href="#gD" x="685" y="-204"/>
<use href="#gE" x="685" y="-204"/>
<use href="#gF" x="685" y="-204"/>
<use href="#gG" x="685" y="-204"/>
<use href="#gH" x="685" y="-204"/>
<use href="#gI" x="685" y="-204"/>
<use href="#gJ" x="685" y="-204"/>
</g></g>
<path d="M289.50 49.40V74.70M297.00 62.50V74.70M303.50 62.50V74.70M311.00 62.50V74.70M317.50 62.50V74.70M325.00 62.50V74.70M331.50 62.50V74.70M339.00 62.50V74.70M345.50 56.40V74.70M353.00 62.50V74.70M359.50 62.50V74.70M367.00 62.50V74.70M373.50 62.50V74.70M381.00 62.50V74.70M387.50 62.50V74.70M395.00 62.50V74.70M401.50 49.40V74.70M409.00 62.50V74.70M415.50 62.50V74.70M423.00 62.50V74.70M429.50 62.50V74.70M437.00 62.50V74.70M443.50 62.50V74.70M451.00 62.50V74.70M457.50 56.40V74.70M465.00 62.50V74.70M471.50 62.50V74.70M479.00 62.50V74.70M485.50 62.50V74.70M493.00 62.50V74.70M499.50 62.50V74.70M507.00 62.50V74.70M513.50 49.40V74.70M521.00 62.50V74.70M527.50 62.50V74.70M535.00 62.50V74.70M541.50 62.50V74.70M549.00 62.50V74.70M555.50 62.50V74.70M563.00 62.50V74.70M569.50 56.40V74.70M577.00 62.50V74.70M583.50 62.50V74.70M591.00 62.50V74.70M597.50 62.50V74.70M605.00 62.50V74.70M611.50 62.50V74.70M619.00 62.50V74.70M625.50 49.40V74.70M633.00 62.50V74.70M639.50 62.50V74.70M647.00 62.50V74.70M653.50 62.50V74.70M661.00 62.50V74.70M667.50 62.50V74.70M675.00 62.50V74.70M681.50 56.40V74.70M689.00 62.50V74.70M695.50 62.50V74.70M703.00 62.50V74.70M709.50 62.50V74.70M717.00 62.50V74.70M723.50 62.50V74.70M731.00 62.50V74.70M737.50 49.40V74.70M745.00 62.50V74.70M751.50 62.50V74.70M759.00 62.50V74.70M765.50 62.50V74.70M773.00 62.50V74.70M779.50 62.50V74.70M787.00 62.50V74.70M793.50 56.40V74.70M801.00 62.50V74.70M807.50 62.50V74.70M815.00 62.50V74.70M821.50 62.50V74.70M829.00 62.50V74.70M835.50 62.50V74.70M843.00 62.50V74.70M849.50 49.40V74.70M857.00 62.50V74.70M863.50 62.50V74.70M871.00 62.50V74.70M877.50 62.50V74.70M885.00 62.50V74.70M891.50 62.50V74.70M899.00 62.50V74.70M905.50 56.40V74.70M913.00 62.50V74.70M919.50 62.50V74.70M927.00 62.50V74.70M933.50 62.50V74.70M941.00 62.50V74.70M947.50 62.50V74.70M955.00 62.50V74.70M961.50 49.40V74.70M265.00 75.00H289.70M277.00 81.50H289.70M277.00 89.00H289.70M277.00 95.50H289.70M277.00 103.00H289.70M277.00 109.50H289.70M277.00 117.00H289.70M277.00 123.50H289.70M270.00 131.00H289.70M277.00 137.50H289.70M277.00 145.00H289.70M277.00 151.50H289.70M277.00 159.00H289.70M277.00 165.50H289.70M277.00 173.00H289.70M277.00 179.50H289.70M265.00 187.00H289.70M277.00 193.50H289.70M277.00 201.00H289.70M277.00 207.50H289.70M277.00 215.00H289.70M277.00 221.50H289.70M277.00 229.00H289.70M277.00 235.50H289.70M270.00 243.00H289.70M277.00 249.50H289.70M277.00 257.00H289.70M277.00 263.50H289.70M277.00 271.00H289.70M277.00 277.50H289.70M277.00 285.00H289.70M277.00 291.50H289.70M265.00 299.00H289.70" stroke="#000" stroke-width="1" fill="none"/>
<text x="388.47" y="45.20" class="rl" textLength="36.6" lengthAdjust="spacingAndGlyphs">1in.</text>
<text x="500.44" y="45.20" class="rl" textLength="36.6" lengthAdjust="spacingAndGlyphs">2in.</text>
<text x="612.41" y="45.20" class="rl" textLength="36.6" lengthAdjust="spacingAndGlyphs">3in.</text>
<text x="724.38" y="45.20" class="rl" textLength="36.6" lengthAdjust="spacingAndGlyphs">4in.</text>
<text x="836.35" y="45.20" class="rl" textLength="36.6" lengthAdjust="spacingAndGlyphs">5in.</text>
<text x="948.32" y="45.20" class="rl" textLength="36.6" lengthAdjust="spacingAndGlyphs">6in.</text>
<text transform="translate(259.8 203.27) rotate(-90)" class="rl">1in.</text>
<text transform="translate(261.0 312.24) rotate(-90)" class="rl">2in.</text>
<clipPath id="cp1"><rect x="289.3" y="407.6" width="675.20" height="225.00"/></clipPath>
<g clip-path="url(#cp1)"><rect x="289.3" y="407.6" width="675.20" height="225.00" fill="#F6A1A0"/>
<g transform="translate(-289.5 256.5) scale(1.908)">
<use href="#gA" x="-304" y="0"/>
<use href="#gB" x="-304" y="0"/>
<use href="#gC" x="-304" y="0"/>
<use href="#gD" x="-304" y="0"/>
<use href="#gE" x="-304" y="0"/>
<use href="#gF" x="-304" y="0"/>
<use href="#gG" x="-304" y="0"/>
<use href="#gH" x="-304" y="0"/>
<use href="#gI" x="-304" y="0"/>
<use href="#gJ" x="-304" y="0"/>
<use href="#gA" x="0" y="0"/>
<use href="#gB" x="0" y="0"/>
<use href="#gC" x="0" y="0"/>
<use href="#gD" x="0" y="0"/>
<use href="#gE" x="0" y="0"/>
<use href="#gF" x="0" y="0"/>
<use href="#gG" x="0" y="0"/>
<use href="#gH" x="0" y="0"/>
<use href="#gI" x="0" y="0"/>
<use href="#gJ" x="0" y="0"/>
<use href="#gA" x="304" y="0"/>
<use href="#gB" x="304" y="0"/>
<use href="#gC" x="304" y="0"/>
<use href="#gD" x="304" y="0"/>
<use href="#gE" x="304" y="0"/>
<use href="#gF" x="304" y="0"/>
<use href="#gG" x="304" y="0"/>
<use href="#gH" x="304" y="0"/>
<use href="#gI" x="304" y="0"/>
<use href="#gJ" x="304" y="0"/>
<use href="#gA" x="608" y="0"/>
<use href="#gB" x="608" y="0"/>
<use href="#gC" x="608" y="0"/>
<use href="#gD" x="608" y="0"/>
<use href="#gE" x="608" y="0"/>
<use href="#gF" x="608" y="0"/>
<use href="#gG" x="608" y="0"/>
<use href="#gH" x="608" y="0"/>
<use href="#gI" x="608" y="0"/>
<use href="#gJ" x="608" y="0"/>
<use href="#gA" x="-381" y="204"/>
<use href="#gB" x="-381" y="204"/>
<use href="#gC" x="-381" y="204"/>
<use href="#gD" x="-227" y="-204"/>
<use href="#gE" x="-227" y="-204"/>
<use href="#gF" x="-227" y="-204"/>
<use href="#gG" x="-227" y="-204"/>
<use href="#gH" x="-227" y="-204"/>
<use href="#gI" x="-227" y="-204"/>
<use href="#gJ" x="-227" y="-204"/>
<use href="#gA" x="-77" y="204"/>
<use href="#gB" x="-77" y="204"/>
<use href="#gC" x="-77" y="204"/>
<use href="#gD" x="77" y="-204"/>
<use href="#gE" x="77" y="-204"/>
<use href="#gF" x="77" y="-204"/>
<use href="#gG" x="77" y="-204"/>
<use href="#gH" x="77" y="-204"/>
<use href="#gI" x="77" y="-204"/>
<use href="#gJ" x="77" y="-204"/>
<use href="#gA" x="227" y="204"/>
<use href="#gB" x="227" y="204"/>
<use href="#gC" x="227" y="204"/>
<use href="#gD" x="381" y="-204"/>
<use href="#gE" x="381" y="-204"/>
<use href="#gF" x="381" y="-204"/>
<use href="#gG" x="381" y="-204"/>
<use href="#gH" x="381" y="-204"/>
<use href="#gI" x="381" y="-204"/>
<use href="#gJ" x="381" y="-204"/>
<use href="#gA" x="531" y="204"/>
<use href="#gB" x="531" y="204"/>
<use href="#gC" x="531" y="204"/>
<use href="#gD" x="685" y="-204"/>
<use href="#gE" x="685" y="-204"/>
<use href="#gF" x="685" y="-204"/>
<use href="#gG" x="685" y="-204"/>
<use href="#gH" x="685" y="-204"/>
<use href="#gI" x="685" y="-204"/>
<use href="#gJ" x="685" y="-204"/>
</g></g>
<path d="M290.00 382.30V407.60M296.50 395.40V407.60M304.00 395.40V407.60M310.50 395.40V407.60M318.00 395.40V407.60M324.50 395.40V407.60M332.00 395.40V407.60M338.50 395.40V407.60M346.00 389.30V407.60M352.50 395.40V407.60M360.00 395.40V407.60M366.50 395.40V407.60M374.00 395.40V407.60M380.50 395.40V407.60M388.00 395.40V407.60M394.50 395.40V407.60M402.00 382.30V407.60M409.50 395.40V407.60M416.00 395.40V407.60M423.50 395.40V407.60M430.00 395.40V407.60M437.50 395.40V407.60M444.00 395.40V407.60M451.50 395.40V407.60M458.00 389.30V407.60M465.50 395.40V407.60M472.00 395.40V407.60M479.50 395.40V407.60M486.00 395.40V407.60M493.50 395.40V407.60M500.00 395.40V407.60M507.50 395.40V407.60M514.00 382.30V407.60M521.50 395.40V407.60M529.00 395.40V407.60M535.50 395.40V407.60M543.00 395.40V407.60M549.50 395.40V407.60M557.00 395.40V407.60M563.50 395.40V407.60M571.00 389.30V407.60M577.50 395.40V407.60M585.00 395.40V407.60M591.50 395.40V407.60M599.00 395.40V407.60M605.50 395.40V407.60M613.00 395.40V407.60M619.50 395.40V407.60M627.00 382.30V407.60M634.50 395.40V407.60M641.00 395.40V407.60M648.50 395.40V407.60M655.00 395.40V407.60M662.50 395.40V407.60M669.00 395.40V407.60M676.50 395.40V407.60M683.00 389.30V407.60M690.50 395.40V407.60M697.00 395.40V407.60M704.50 395.40V407.60M711.00 395.40V407.60M718.50 395.40V407.60M725.00 395.40V407.60M732.50 395.40V407.60M740.00 382.30V407.60M746.50 395.40V407.60M754.00 395.40V407.60M760.50 395.40V407.60M768.00 395.40V407.60M774.50 395.40V407.60M782.00 395.40V407.60M788.50 395.40V407.60M796.00 389.30V407.60M802.50 395.40V407.60M810.00 395.40V407.60M816.50 395.40V407.60M824.00 395.40V407.60M830.50 395.40V407.60M838.00 395.40V407.60M844.50 395.40V407.60M852.00 382.30V407.60M859.50 395.40V407.60M866.00 395.40V407.60M873.50 395.40V407.60M880.00 395.40V407.60M887.50 395.40V407.60M894.00 395.40V407.60M901.50 395.40V407.60M908.00 389.30V407.60M915.50 395.40V407.60M922.00 395.40V407.60M929.50 395.40V407.60M936.00 395.40V407.60M943.50 395.40V407.60M950.00 395.40V407.60M957.50 395.40V407.60M964.00 382.30V407.60M265.00 407.60H289.50M277.00 414.63H289.50M277.00 421.66H289.50M277.00 428.69H289.50M277.00 435.73H289.50M277.00 442.76H289.50M277.00 449.79H289.50M277.00 456.82H289.50M270.00 463.85H289.50M277.00 470.88H289.50M277.00 477.91H289.50M277.00 484.94H289.50M277.00 491.98H289.50M277.00 499.01H289.50M277.00 506.04H289.50M277.00 513.07H289.50M265.00 520.10H289.50M277.00 527.13H289.50M277.00 534.16H289.50M277.00 541.19H289.50M277.00 548.23H289.50M277.00 555.26H289.50M277.00 562.29H289.50M277.00 569.32H289.50M270.00 576.35H289.50M277.00 583.38H289.50M277.00 590.41H289.50M277.00 597.44H289.50M277.00 604.48H289.50M277.00 611.51H289.50M277.00 618.54H289.50M277.00 625.57H289.50M265.00 632.60H289.50" stroke="#000" stroke-width="1" fill="none"/>
<text x="388.80" y="378.10" class="rl" textLength="36.6" lengthAdjust="spacingAndGlyphs">1in.</text>
<text x="501.30" y="378.10" class="rl" textLength="36.6" lengthAdjust="spacingAndGlyphs">2in.</text>
<text x="613.80" y="378.10" class="rl" textLength="36.6" lengthAdjust="spacingAndGlyphs">3in.</text>
<text x="726.30" y="378.10" class="rl" textLength="36.6" lengthAdjust="spacingAndGlyphs">4in.</text>
<text x="838.80" y="378.10" class="rl" textLength="36.6" lengthAdjust="spacingAndGlyphs">5in.</text>
<text x="951.30" y="378.10" class="rl" textLength="36.6" lengthAdjust="spacingAndGlyphs">6in.</text>
<text transform="translate(259.8 536.70) rotate(-90)" class="rl">1in.</text>
<text transform="translate(261.0 646.20) rotate(-90)" class="rl">2in.</text>
<clipPath id="cp2"><rect x="289.3" y="739.6" width="674.60" height="224.90"/></clipPath>
<g clip-path="url(#cp2)"><rect x="289.3" y="739.6" width="674.60" height="224.90" fill="#F6A1A0"/>
<g transform="translate(-581.0 494.6) scale(2.86)">
<use href="#gA" x="-304" y="0"/>
<use href="#gB" x="-304" y="0"/>
<use href="#gC" x="-304" y="0"/>
<use href="#gD" x="-304" y="0"/>
<use href="#gE" x="-304" y="0"/>
<use href="#gF" x="-304" y="0"/>
<use href="#gG" x="-304" y="0"/>
<use href="#gH" x="-304" y="0"/>
<use href="#gI" x="-304" y="0"/>
<use href="#gJ" x="-304" y="0"/>
<use href="#gA" x="0" y="0"/>
<use href="#gB" x="0" y="0"/>
<use href="#gC" x="0" y="0"/>
<use href="#gD" x="0" y="0"/>
<use href="#gE" x="0" y="0"/>
<use href="#gF" x="0" y="0"/>
<use href="#gG" x="0" y="0"/>
<use href="#gH" x="0" y="0"/>
<use href="#gI" x="0" y="0"/>
<use href="#gJ" x="0" y="0"/>
<use href="#gA" x="304" y="0"/>
<use href="#gB" x="304" y="0"/>
<use href="#gC" x="304" y="0"/>
<use href="#gD" x="304" y="0"/>
<use href="#gE" x="304" y="0"/>
<use href="#gF" x="304" y="0"/>
<use href="#gG" x="304" y="0"/>
<use href="#gH" x="304" y="0"/>
<use href="#gI" x="304" y="0"/>
<use href="#gJ" x="304" y="0"/>
<use href="#gA" x="608" y="0"/>
<use href="#gB" x="608" y="0"/>
<use href="#gC" x="608" y="0"/>
<use href="#gD" x="608" y="0"/>
<use href="#gE" x="608" y="0"/>
<use href="#gF" x="608" y="0"/>
<use href="#gG" x="608" y="0"/>
<use href="#gH" x="608" y="0"/>
<use href="#gI" x="608" y="0"/>
<use href="#gJ" x="608" y="0"/>
<use href="#gA" x="-381" y="204"/>
<use href="#gB" x="-381" y="204"/>
<use href="#gC" x="-381" y="204"/>
<use href="#gD" x="-227" y="-204"/>
<use href="#gE" x="-227" y="-204"/>
<use href="#gF" x="-227" y="-204"/>
<use href="#gG" x="-227" y="-204"/>
<use href="#gH" x="-227" y="-204"/>
<use href="#gI" x="-227" y="-204"/>
<use href="#gJ" x="-227" y="-204"/>
<use href="#gA" x="-77" y="204"/>
<use href="#gB" x="-77" y="204"/>
<use href="#gC" x="-77" y="204"/>
<use href="#gD" x="77" y="-204"/>
<use href="#gE" x="77" y="-204"/>
<use href="#gF" x="77" y="-204"/>
<use href="#gG" x="77" y="-204"/>
<use href="#gH" x="77" y="-204"/>
<use href="#gI" x="77" y="-204"/>
<use href="#gJ" x="77" y="-204"/>
<use href="#gA" x="227" y="204"/>
<use href="#gB" x="227" y="204"/>
<use href="#gC" x="227" y="204"/>
<use href="#gD" x="381" y="-204"/>
<use href="#gE" x="381" y="-204"/>
<use href="#gF" x="381" y="-204"/>
<use href="#gG" x="381" y="-204"/>
<use href="#gH" x="381" y="-204"/>
<use href="#gI" x="381" y="-204"/>
<use href="#gJ" x="381" y="-204"/>
<use href="#gA" x="531" y="204"/>
<use href="#gB" x="531" y="204"/>
<use href="#gC" x="531" y="204"/>
<use href="#gD" x="685" y="-204"/>
<use href="#gE" x="685" y="-204"/>
<use href="#gF" x="685" y="-204"/>
<use href="#gG" x="685" y="-204"/>
<use href="#gH" x="685" y="-204"/>
<use href="#gI" x="685" y="-204"/>
<use href="#gJ" x="685" y="-204"/>
</g></g>
<path d="M289.20 714.30V739.60M296.23 727.40V739.60M303.26 727.40V739.60M310.28 727.40V739.60M317.31 727.40V739.60M324.34 727.40V739.60M331.37 727.40V739.60M338.40 727.40V739.60M345.43 721.30V739.60M352.45 727.40V739.60M359.48 727.40V739.60M366.51 727.40V739.60M373.54 727.40V739.60M380.57 727.40V739.60M387.59 727.40V739.60M394.62 727.40V739.60M401.65 714.30V739.60M408.68 727.40V739.60M415.71 727.40V739.60M422.73 727.40V739.60M429.76 727.40V739.60M436.79 727.40V739.60M443.82 727.40V739.60M450.85 727.40V739.60M457.88 721.30V739.60M464.90 727.40V739.60M471.93 727.40V739.60M478.96 727.40V739.60M485.99 727.40V739.60M493.02 727.40V739.60M500.04 727.40V739.60M507.07 727.40V739.60M514.10 714.30V739.60M521.13 727.40V739.60M528.16 727.40V739.60M535.18 727.40V739.60M542.21 727.40V739.60M549.24 727.40V739.60M556.27 727.40V739.60M563.30 727.40V739.60M570.33 721.30V739.60M577.35 727.40V739.60M584.38 727.40V739.60M591.41 727.40V739.60M598.44 727.40V739.60M605.47 727.40V739.60M612.49 727.40V739.60M619.52 727.40V739.60M626.55 714.30V739.60M633.58 727.40V739.60M640.61 727.40V739.60M647.63 727.40V739.60M654.66 727.40V739.60M661.69 727.40V739.60M668.72 727.40V739.60M675.75 727.40V739.60M682.77 721.30V739.60M689.80 727.40V739.60M696.83 727.40V739.60M703.86 727.40V739.60M710.89 727.40V739.60M717.92 727.40V739.60M724.94 727.40V739.60M731.97 727.40V739.60M739.00 714.30V739.60M746.03 727.40V739.60M753.06 727.40V739.60M760.08 727.40V739.60M767.11 727.40V739.60M774.14 727.40V739.60M781.17 727.40V739.60M788.20 727.40V739.60M795.23 721.30V739.60M802.25 727.40V739.60M809.28 727.40V739.60M816.31 727.40V739.60M823.34 727.40V739.60M830.37 727.40V739.60M837.39 727.40V739.60M844.42 727.40V739.60M851.45 714.30V739.60M858.48 727.40V739.60M865.51 727.40V739.60M872.53 727.40V739.60M879.56 727.40V739.60M886.59 727.40V739.60M893.62 727.40V739.60M900.65 727.40V739.60M907.67 721.30V739.60M914.70 727.40V739.60M921.73 727.40V739.60M928.76 727.40V739.60M935.79 727.40V739.60M942.82 727.40V739.60M949.84 727.40V739.60M956.87 727.40V739.60M963.90 714.30V739.60M265.00 739.50H289.20M277.00 747.00H289.20M277.00 753.50H289.20M277.00 761.00H289.20M277.00 767.50H289.20M277.00 775.00H289.20M277.00 781.50H289.20M277.00 789.00H289.20M270.00 795.50H289.20M277.00 803.00H289.20M277.00 809.50H289.20M277.00 817.00H289.20M277.00 823.50H289.20M277.00 831.00H289.20M277.00 837.50H289.20M277.00 845.00H289.20M265.00 852.50H289.20M277.00 859.00H289.20M277.00 866.50H289.20M277.00 873.00H289.20M277.00 880.50H289.20M277.00 887.00H289.20M277.00 894.50H289.20M277.00 901.00H289.20M270.00 908.50H289.20M277.00 915.00H289.20M277.00 922.50H289.20M277.00 929.00H289.20M277.00 936.50H289.20M277.00 943.00H289.20M277.00 950.50H289.20M277.00 957.00H289.20M265.00 964.50H289.20" stroke="#000" stroke-width="1" fill="none"/>
<text x="388.45" y="710.10" class="rl" textLength="36.6" lengthAdjust="spacingAndGlyphs">1in.</text>
<text x="500.90" y="710.10" class="rl" textLength="36.6" lengthAdjust="spacingAndGlyphs">2in.</text>
<text x="613.35" y="710.10" class="rl" textLength="36.6" lengthAdjust="spacingAndGlyphs">3in.</text>
<text x="725.80" y="710.10" class="rl" textLength="36.6" lengthAdjust="spacingAndGlyphs">4in.</text>
<text x="838.25" y="710.10" class="rl" textLength="36.6" lengthAdjust="spacingAndGlyphs">5in.</text>
<text x="950.70" y="710.10" class="rl" textLength="36.6" lengthAdjust="spacingAndGlyphs">6in.</text>
<text transform="translate(259.8 868.65) rotate(-90)" class="rl">1in.</text>
<text transform="translate(261.0 978.10) rotate(-90)" class="rl">2in.</text>
</svg></body></html>
